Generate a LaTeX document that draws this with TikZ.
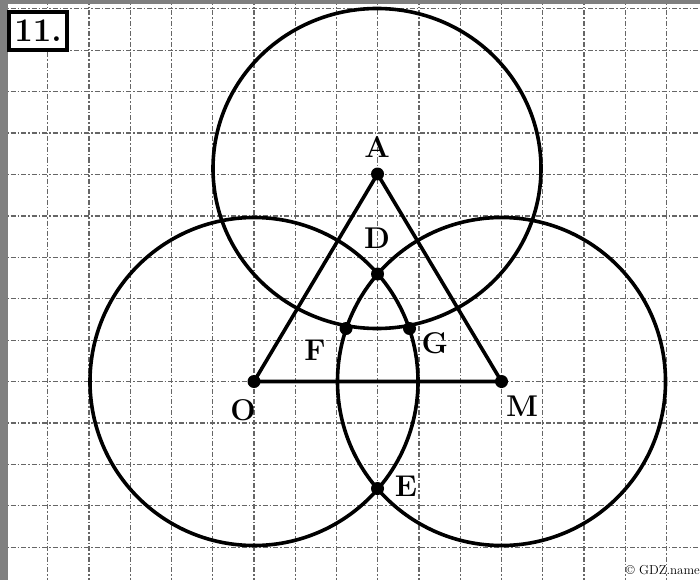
\documentclass[tikz,border=0pt]{standalone}
\usepackage{amsmath,amssymb}
\usepackage{tikz}

\begin{document}
\begin{tikzpicture}[x=1pt,y=1pt,yscale=-1,xscale=1,
  gridline/.style={color=black!60,line width=1.2pt,dash pattern=on 5pt off 2pt on 1.5pt off 2pt},
  thickline/.style={line width=3.6pt,line join=round},
  lbl/.style={inner sep=0pt,font=\fontsize{30}{32}\selectfont\bfseries}]
\useasboundingbox (0,0) rectangle (700,580);

%Grid
\foreach \k in {-5,...,10} \draw [gridline] (254+41.25*\k,0) -- (254+41.25*\k,580);
\foreach \k in {-4,...,9} \draw [gridline] (0,381.5-41.4*\k) -- (700,381.5-41.4*\k);

%Shape: Border
\fill [black!50] (0,0) rectangle (8,580);
\fill [black!50] (0,0) rectangle (700,4);

%Points
\coordinate (O) at (254,381.5);
\coordinate (M) at (501.5,381.5);
\coordinate (A) at (377.5,174);
\coordinate (D) at (377.5,274);
\coordinate (E) at (377.5,488.5);
\coordinate (F) at (346,328.5);
\coordinate (G) at (409.5,328.5);

%Shape: Circle
\draw [thickline] (O) circle (164);
%Shape: Circle
\draw [thickline] (M) circle (164);
%Shape: Circle
\draw [thickline] (377,168.5) ellipse (164 and 160);

%Shape: Triangle
\draw [thickline] (O) -- (A) -- (M) -- cycle;

%Flowchart: Connector
\foreach \p in {O,M,A,D,E,F,G} \fill (\p) circle (6.5);

% Text Node
\node (lblA) [lbl] at (377,147) {A};
% Text Node
\node (lblD) [lbl] at (377,238) {D};
% Text Node
\node (lblF) [lbl] at (315,350) {F};
% Text Node
\node (lblG) [lbl] at (435,343) {G};
% Text Node
\node (lblO) [lbl] at (243,410) {O};
% Text Node
\node (lblM) [lbl] at (522,406) {M};
% Text Node
\node (lblE) [lbl] at (406,486) {E};

% Text Node
\node (num) [draw,line width=3.6pt,fill=white,inner sep=0pt,minimum width=57.5pt,minimum height=38.5pt,font=\fontsize{33}{34}\selectfont\bfseries] at (38,31) {11.};
% Text Node
\node (copy) [anchor=east,inner sep=0pt,font=\fontsize{13}{14}\selectfont] at (700,570) {\copyright\ GDZ.name};

\end{tikzpicture}
\end{document}
